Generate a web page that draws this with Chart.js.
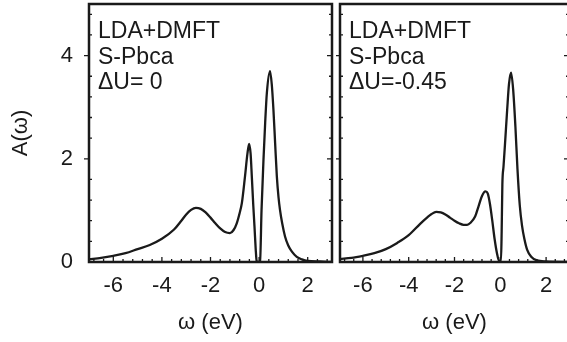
<!DOCTYPE html>
<html>
<head>
<meta charset="utf-8">
<script src="https://cdn.jsdelivr.net/npm/chart.js@4.4.0/dist/chart.umd.min.js"></script>
<style>
  html, body { margin: 0; padding: 0; background: #fff; overflow: hidden; }
  #wrap { position: relative; width: 567px; height: 342px; overflow: hidden; }
  canvas { position: absolute; top: 0; }
  #left-chart { left: 0; }
  #right-chart { left: 336px; }
</style>
</head>
<body>
<div id="wrap">
  <canvas id="left-chart" width="336" height="342"></canvas>
  <canvas id="right-chart" width="240" height="342"></canvas>
</div>
<script>
// spectral function A(w) (w in eV)
const omegaLeft = [-7.0, -6.5, -6.0, -5.5, -5.0, -4.5, -4.0, -3.5, -3.2, -3.0, -2.8, -2.6, -2.4, -2.2, -2.0,
  -1.8, -1.6, -1.4, -1.2, -1.05, -0.92, -0.8, -0.71, -0.58, -0.48, -0.41, -0.35, -0.3, -0.24, -0.19,
  -0.14, -0.1, -0.03, 0.04, 0.1, 0.18, 0.25, 0.32, 0.45, 0.52, 0.59, 0.66, 0.73, 0.8, 0.86,
  0.95, 1.07, 1.2, 1.35, 1.55, 1.76, 2.0, 2.5, 3.0];
const specLeft = [0.05, 0.08, 0.12, 0.17, 0.25, 0.33, 0.45, 0.63, 0.8, 0.92, 1.01, 1.05, 1.03, 0.96, 0.86,
  0.75, 0.65, 0.58, 0.56, 0.62, 0.75, 0.95, 1.14, 1.66, 2.1, 2.29, 2.1, 1.66, 1.1, 0.69,
  0.25, 0.02, 0.0, 0.02, 1.0, 1.98, 2.7, 3.28, 3.7, 3.45, 2.95, 2.3, 1.66, 1.25, 1.01,
  0.75, 0.49, 0.32, 0.2, 0.1, 0.05, 0.02, 0.01, 0.0];

const omegaRight = [-7.0, -6.5, -6.0, -5.5, -5.0, -4.5, -4.0, -3.5, -3.2, -3.0, -2.8, -2.6, -2.4, -2.2, -2.0,
  -1.8, -1.6, -1.45, -1.3, -1.1, -0.95, -0.8, -0.65, -0.55, -0.45, -0.35, -0.25, -0.15, -0.05, 0.03,
  0.06, 0.09, 0.14, 0.2, 0.3, 0.38, 0.47, 0.56, 0.66, 0.75, 0.85, 0.95, 1.05, 1.17, 1.35,
  1.6, 2.0, 3.0];
const specRight = [0.06, 0.08, 0.12, 0.17, 0.25, 0.37, 0.52, 0.74, 0.86, 0.93, 0.97, 0.96, 0.92, 0.86, 0.8,
  0.75, 0.72, 0.72, 0.76, 0.88, 1.08, 1.28, 1.37, 1.33, 1.12, 0.8, 0.45, 0.18, 0.02, 0.02,
  0.6, 1.5, 1.85, 2.25, 2.95, 3.45, 3.67, 3.35, 2.62, 1.8, 1.1, 0.7, 0.45, 0.24, 0.1,
  0.03, 0.01, 0.0];

const xTickValues = [-6, -4, -2, 0, 2];
const yTickValues = [0, 2, 4];
const labelLeft = ["LDA+DMFT", "S-Pbca", "ΔU= 0"];
const labelRight = ["LDA+DMFT", "S-Pbca", "ΔU=-0.45"];

const ink = "#1a1a1a";
const font = { family: "'Liberation Sans', Arial, sans-serif", size: 22 };

// box frame plus the small tick marks (majors every 2, minors every 0.4)
const frameTicks = {
  id: "frameTicks",
  afterDatasetsDraw(chart) {
    const { ctx, chartArea: a, scales: { x, y } } = chart;
    ctx.save();
    ctx.strokeStyle = ink;
    ctx.lineWidth = 1.3;
    ctx.beginPath();
    for (let i = -17; i <= 7; i++) {
      const px = x.getPixelForValue(i * 0.4);
      const len = i % 5 === 0 ? 5 : 3;
      ctx.moveTo(px, a.bottom);
      ctx.lineTo(px, a.bottom - len);
    }
    for (let j = 1; j <= 12; j++) {
      const py = y.getPixelForValue(j * 0.4);
      const major = j % 5 === 0;
      if (major) {
        ctx.moveTo(a.left - 5, py);
        ctx.lineTo(a.left, py);
      } else {
        ctx.moveTo(a.left, py);
        ctx.lineTo(a.left + 3, py);
      }
      ctx.moveTo(a.right, py);
      ctx.lineTo(a.right - (major ? 5 : 3), py);
    }
    ctx.stroke();
    ctx.lineWidth = 2.5;
    ctx.strokeRect(a.left, a.top, a.width, a.height);
    ctx.restore();
  }
};

// the three text lines in the upper left corner of a panel
const cornerText = {
  id: "cornerText",
  afterDraw(chart, args, opts) {
    const { ctx, chartArea: a } = chart;
    ctx.save();
    ctx.font = "23px 'Liberation Sans', Arial, sans-serif";
    ctx.fillStyle = ink;
    ctx.textBaseline = "alphabetic";
    opts.lines.forEach((t, i) => ctx.fillText(t, a.left + 9, a.top + 34 + i * 25.5));
    ctx.restore();
  }
};

function makeChart(id, omega, spec, lines, showY, pad) {
  return new Chart(document.getElementById(id), {
    type: "line",
    data: {
      datasets: [{
        data: omega.map((w, i) => ({ x: w, y: spec[i] })),
        borderColor: ink,
        borderWidth: 2.3,
        pointRadius: 0,
        cubicInterpolationMode: "monotone",
        fill: false
      }]
    },
    options: {
      responsive: false,
      animation: false,
      layout: { padding: pad },
      plugins: {
        legend: { display: false },
        tooltip: { enabled: false },
        cornerText: { lines: lines }
      },
      scales: {
        x: {
          type: "linear",
          min: -7,
          max: 3,
          grid: { display: false, drawTicks: false },
          border: { display: false },
          afterBuildTicks: (s) => { s.ticks = xTickValues.map((v) => ({ value: v })); },
          afterFit: (s) => { s.height = 80; s.paddingLeft = 0; s.paddingRight = 0; },
          ticks: { padding: 11, font: font, color: ink, maxRotation: 0, autoSkip: false },
          title: { display: true, text: "ω (eV)", font: font, color: ink, padding: { top: 0, bottom: 6 } }
        },
        y: {
          display: showY,
          min: 0,
          max: 5,
          grid: { display: false, drawTicks: false },
          border: { display: false },
          afterBuildTicks: (s) => { s.ticks = yTickValues.map((v) => ({ value: v })); },
          afterFit: (s) => { s.width = showY ? 89 : 0; s.paddingTop = 0; s.paddingBottom = 0; },
          ticks: { padding: 16, font: font, color: ink },
          title: { display: true, text: "A(ω)", font: font, color: ink, padding: { top: 8, bottom: 0 } }
        }
      }
    },
    plugins: [frameTicks, cornerText]
  });
}

makeChart("left-chart", omegaLeft, specLeft, labelLeft, true, { top: 4, right: 4, left: 0, bottom: 0 });
makeChart("right-chart", omegaRight, specRight, labelRight, false, { top: 4, right: 7, left: 4, bottom: 0 });
</script>
</body>
</html>
